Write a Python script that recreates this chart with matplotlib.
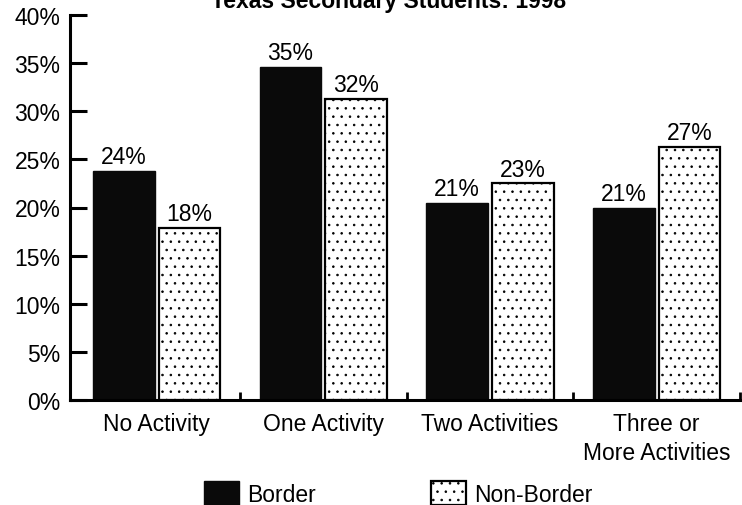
import numpy as np
import matplotlib
matplotlib.use("Agg")
import matplotlib.pyplot as plt

plt.rcParams['font.family'] = ['Liberation Sans', 'DejaVu Sans']
plt.rcParams['hatch.linewidth'] = 0.6

# data
categories = ['No Activity', 'One Activity', 'Two Activities', 'Three or\nMore Activities']
border = [23.8, 34.6, 20.5, 20.0]
non_border = [17.9, 31.3, 22.5, 26.3]
border_labels = ['24%', '35%', '21%', '21%']
non_border_labels = ['18%', '32%', '23%', '27%']
yticks = [0, 5, 10, 15, 20, 25, 30, 35, 40]

fs = 16.5
fig = plt.figure(figsize=(7.42, 5.06), dpi=100)
ax = fig.add_axes([70 / 742, 105 / 506, 670 / 742, 385 / 506])

x = np.arange(len(categories))
w = 0.37
off = 0.197

b1 = ax.bar(x - off, border, w, color='#0a0a0a', edgecolor='#0a0a0a', linewidth=1,
            label='Border')
b2 = ax.bar(x + off, non_border, w, color='white', edgecolor='black', linewidth=1.6,
            hatch='..', label='Non-Border')

for rect, lab in zip(b1, border_labels):
    ax.text(rect.get_x() + rect.get_width() / 2, rect.get_height() + 0.3, lab,
            ha='center', va='bottom', fontsize=fs)
for rect, lab in zip(b2, non_border_labels):
    ax.text(rect.get_x() + rect.get_width() / 2, rect.get_height() + 0.3, lab,
            ha='center', va='bottom', fontsize=fs)

ax.set_xlim(-0.52, 3.5)
ax.set_ylim(0, 40)
ax.set_yticks(yticks)
ax.set_yticklabels(['%d%%' % t for t in yticks], fontsize=fs)
ax.set_xticks(x)
ax.set_xticklabels(categories, fontsize=fs, linespacing=1.3)
ax.set_xticks([0.5, 1.5, 2.5, 3.5], minor=True)

for s in ['top', 'right']:
    ax.spines[s].set_visible(False)
ax.spines['left'].set_linewidth(2.2)
ax.spines['bottom'].set_linewidth(2.2)

ax.tick_params(axis='y', direction='in', length=12, width=2.2, pad=7)
ax.tick_params(axis='x', which='major', length=0, pad=9)
ax.tick_params(axis='x', which='minor', direction='in', length=6, width=2)

fig.text(0.523, 0.984, 'Texas Secondary Students: 1998', ha='center', va='baseline',
         fontsize=fs, fontweight='bold')

fig.legend(handles=[b1, b2], loc='lower left', bbox_to_anchor=(183 / 742, -0.042),
           ncol=2, frameon=False, fontsize=fs, handlelength=1.55, handleheight=1.2,
           handletextpad=0.35, columnspacing=5.0)

fig.savefig('out.png', dpi=100)
